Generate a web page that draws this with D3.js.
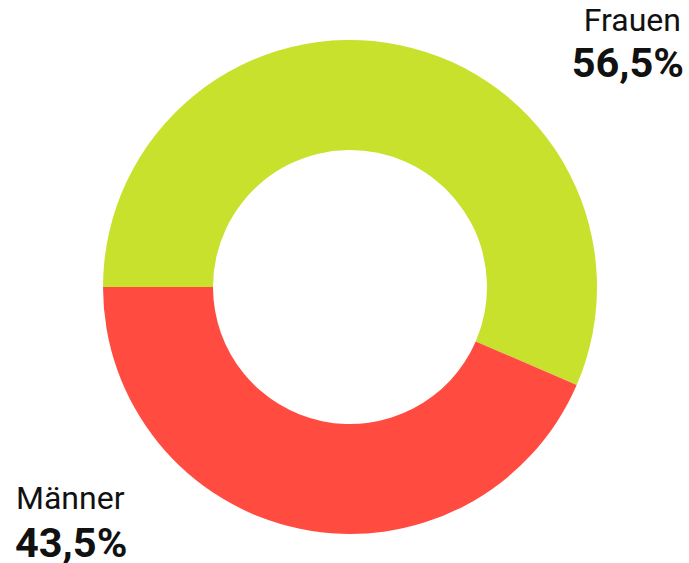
<!DOCTYPE html>
<html>
<head>
<meta charset="utf-8">
<style>
  body { margin: 0; background: #fff; }
  text { font-family: Roboto, "Noto Sans", sans-serif; fill: #111; }
</style>
</head>
<body>
<svg id="chart" width="689" height="563"></svg>
<script src="https://d3js.org/d3.v7.min.js"></script>
<script>
  // Daten
  const categories = ['Frauen', 'Männer']
  const values = [56.5, 43.5]
  const colors = ['#c8e12c', '#ff4b40']

  const svg = d3.select('#chart')
  const cx = 350, cy = 287

  const pie = d3.pie()
                .sort(null)
                .startAngle(-Math.PI / 2)
                .endAngle(Math.PI * 1.5)

  const arc = d3.arc()
                .innerRadius(137)
                .outerRadius(247)

  const color = d3.scaleOrdinal()
                  .domain(categories)
                  .range(colors)

  const arcs = pie(values)

  svg.append('g')
     .attr('transform', `translate(${cx},${cy})`)
     .selectAll('path')
     .data(arcs)
     .join('path')
     .attr('d', arc)
     .attr('fill', (d, i) => color(categories[i]))

  // Beschriftungen
  const fmt = v => String(v).replace('.', ',') + '%'
  const labels = [
    {x1: 681, x2: 684, y1: 31, y2: 77, anchor: 'end'},
    {x1: 16, x2: 15, y1: 509, y2: 557, anchor: 'start'}
  ]

  labels.forEach((l, i) => {
    svg.append('text')
       .attr('x', l.x1).attr('y', l.y1)
       .attr('text-anchor', l.anchor)
       .attr('font-size', 32)
       .text(categories[i])
    svg.append('text')
       .attr('x', l.x2).attr('y', l.y2)
       .attr('text-anchor', l.anchor)
       .attr('font-size', 41.5)
       .attr('font-weight', 'bold')
       .text(fmt(values[i]))
  })
</script>
</body>
</html>
